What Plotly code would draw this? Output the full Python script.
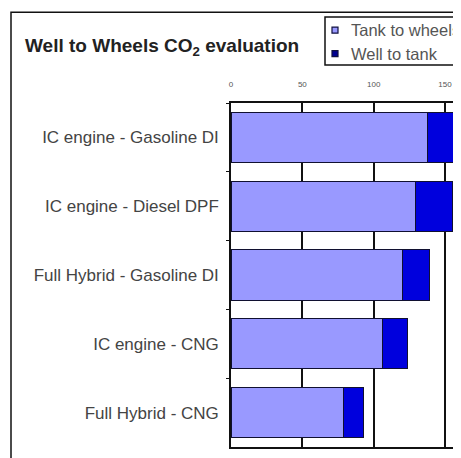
import plotly.graph_objects as go

# Well to Wheels CO2 evaluation (g/km)
vehicles = [
    "IC engine - Gasoline DI",
    "IC engine - Diesel DPF",
    "Full Hybrid - Gasoline DI",
    "IC engine - CNG",
    "Full Hybrid - CNG",
]
tank_to_wheels = [138, 129, 120, 106, 79]
well_to_tank = [24, 26, 19, 18, 14]
tick_vals = [0, 50, 100, 150]
legend_names = ["Tank to wheels", "Well to tank"]

LIGHT = "#9999FF"
DARK = "#0000DD"
FONT = "Liberation Sans, Arial, sans-serif"

# page has an 8px body margin, so the figure is a bit smaller than the window
W, H = 453, 450
L, R, T, B = 223, 0, 95, 10.5
PW, PH = W - L - R, H - T - B


def px_x(x):
    # window pixel -> paper x
    return (x - 8 - L) / PW


def px_y(y):
    # window pixel -> paper y
    return (H - B - (y - 8)) / PH


fig = go.Figure()

fig.add_trace(go.Bar(
    y=vehicles, x=tank_to_wheels, orientation="h",
    name=legend_names[0], showlegend=False,
    marker=dict(color=LIGHT, line=dict(color="#101030", width=1)),
))
fig.add_trace(go.Bar(
    y=vehicles, x=well_to_tank, orientation="h",
    name=legend_names[1], showlegend=False,
    marker=dict(color=DARK, line=dict(color="#101030", width=1)),
))

shapes = [
    # outer chart frame
    dict(type="rect", xref="paper", yref="paper",
         x0=px_x(11), x1=1.2, y0=-0.2, y1=px_y(12),
         line=dict(color="#111111", width=1.5), layer="below"),
    # legend box
    dict(type="rect", xref="paper", yref="paper",
         x0=px_x(325), x1=1.2, y0=px_y(65), y1=px_y(17),
         fillcolor="white", line=dict(color="#111111", width=1.5)),
]
annotations = []
for i, (name, col) in enumerate(zip(legend_names, [LIGHT, "#000090"])):
    cy = 30 + i * 23.5
    shapes.append(dict(type="rect", xref="paper", yref="paper",
                       x0=px_x(332), x1=px_x(338),
                       y0=px_y(cy + 3), y1=px_y(cy - 3),
                       fillcolor=col, line=dict(color="#101040", width=1.2)))
    annotations.append(dict(text=name, xref="paper", yref="paper",
                            x=px_x(349), y=px_y(cy), xanchor="left",
                            yanchor="middle", showarrow=False,
                            font=dict(size=16.5, color="#555555", family=FONT)))

fig.update_layout(
    width=W, height=H,
    barmode="stack", bargap=0.27, showlegend=False,
    paper_bgcolor="white", plot_bgcolor="white",
    font=dict(family=FONT, color="#444444"),
    margin=dict(l=L, r=R, t=T, b=B, autoexpand=False),
    title=dict(text="Well to Wheels CO<sub>2</sub> evaluation",
               x=17 / W, xanchor="left", y=1 - 37 / H, yanchor="middle",
               font=dict(size=19, color="#222222", family=FONT, weight="bold")),
    xaxis=dict(side="top", range=[0, 161.2], tickvals=tick_vals,
               showgrid=True, gridcolor="#111111", gridwidth=1.5,
               showline=True, linecolor="#111111", linewidth=1.5, mirror=True,
               ticks="inside", ticklen=7, tickwidth=1.5, tickcolor="#111111",
               tickfont=dict(size=8, color="#555555"), ticklabelstandoff=11,
               zeroline=False),
    yaxis=dict(autorange="reversed", showgrid=False,
               showline=True, linecolor="#111111", linewidth=1.5,
               ticks="outside", ticklen=3, tickson="boundaries",
               tickcolor="#111111", ticklabelstandoff=7,
               tickfont=dict(size=17, color="#444444")),
    shapes=shapes,
    annotations=annotations,
)

fig.write_html("out.html")
